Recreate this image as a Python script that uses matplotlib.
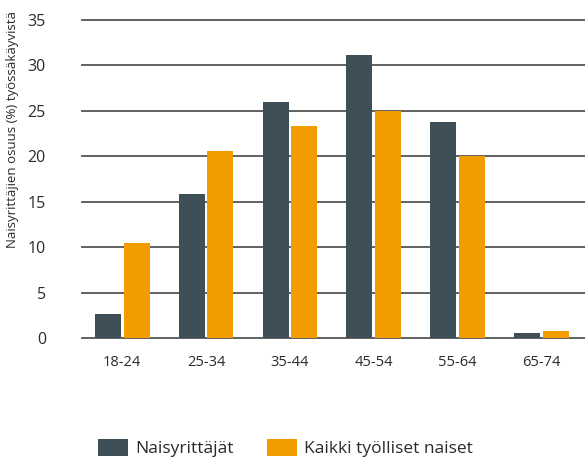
import numpy as np
import matplotlib
matplotlib.use("Agg")
import matplotlib.pyplot as plt

# Data
age_groups = ["18-24", "25-34", "35-44", "45-54", "55-64", "65-74"]
entrepreneurs = [2.6, 15.9, 26.0, 31.2, 23.8, 0.6]      # Naisyrittäjät
all_employed = [10.5, 20.6, 23.3, 25.0, 20.0, 0.8]      # Kaikki työlliset naiset
yticks = [0, 5, 10, 15, 20, 25, 30, 35]

DARK = "#3f4f57"
ORANGE = "#f39c00"
TEXT = "#2a2a2a"

plt.rcParams["font.family"] = ["Open Sans", "DejaVu Sans"]

fig = plt.figure(figsize=(5.85, 4.57), dpi=100)
ax = fig.add_axes([82 / 585, 1 - 338 / 457, 503 / 585, 318 / 457])

x = np.arange(len(age_groups))
w = 0.31
ax.bar(x - 0.171, entrepreneurs, w, color=DARK, label="Naisyrittäjät", zorder=3)
ax.bar(x + 0.171, all_employed, w, color=ORANGE, label="Kaikki työlliset naiset", zorder=3)

ax.set_ylim(0, 35)
ax.set_xlim(-0.48, 5.52)
ax.set_yticks(yticks)
ax.set_yticklabels([str(t) for t in yticks], fontsize=11.5, color=TEXT)
ax.set_xticks(x)
ax.set_xticklabels(age_groups, fontsize=10.5, color=TEXT)
ax.tick_params(axis="y", length=0, pad=26)
ax.tick_params(axis="x", length=0, pad=12)

for t in yticks:
    ax.axhline(t, color="#555555", lw=1.3, zorder=1, clip_on=False)

for s in ax.spines.values():
    s.set_visible(False)

fig.text(13 / 585, 1 - 130 / 457, "Naisyrittäjien osuus (%) työssäkäyvistä",
         rotation=90, ha="center", va="center", fontsize=9.5, color=TEXT)

fig.legend(loc="upper left", bbox_to_anchor=(91 / 585, 1 - 432 / 457), ncol=2,
           frameon=False, fontsize=12.5, handlelength=1.75, handleheight=1.1,
           columnspacing=1.9, handletextpad=0.4, borderaxespad=0,
           labelcolor=TEXT)

fig.savefig("out.png", dpi=100)
